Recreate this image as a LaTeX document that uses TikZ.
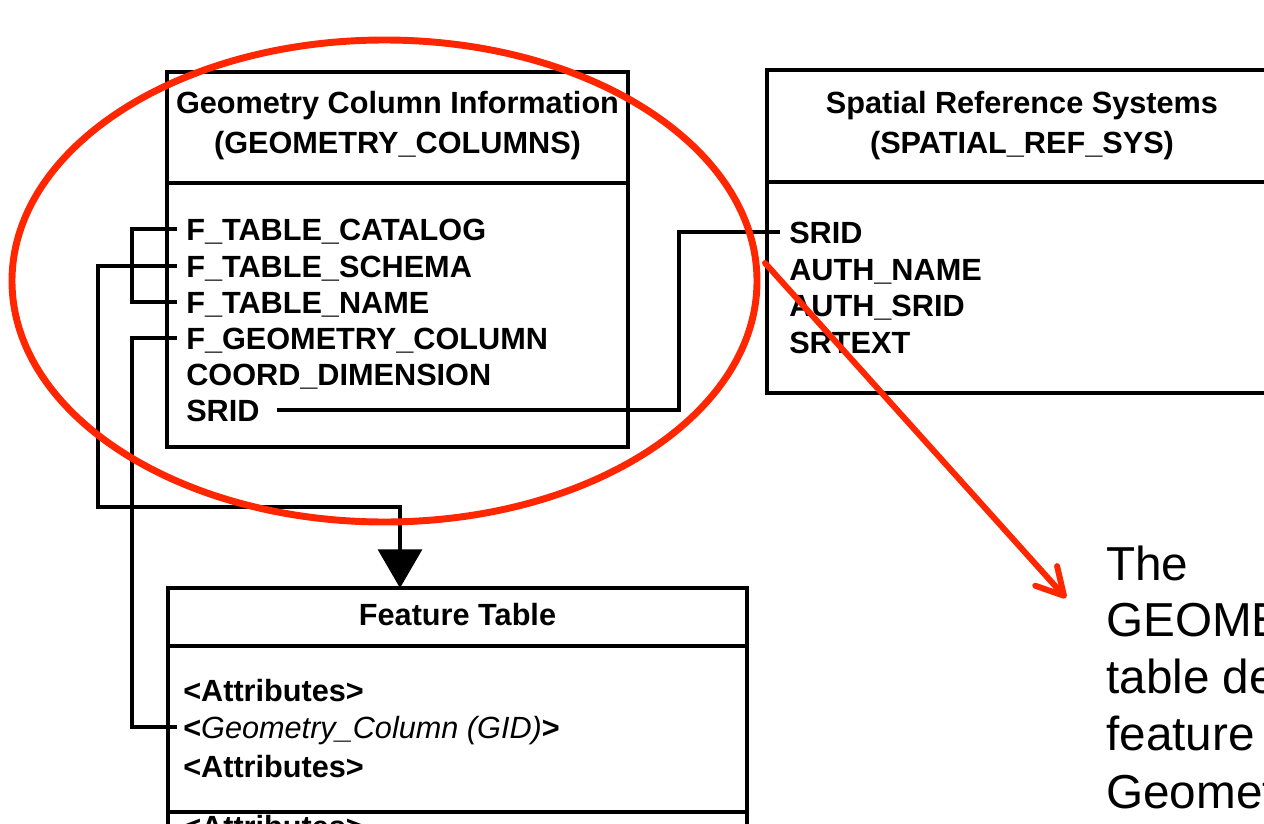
\documentclass[tikz,border=0pt]{standalone}
\usepackage{fontspec}
\setmainfont{Liberation Sans}
\usetikzlibrary{arrows.meta,calc}
\definecolor{annred}{RGB}{255,38,0}
\begin{document}
\begin{tikzpicture}[x=0.75pt,y=-0.75pt,
  box/.style={line width=2.6pt},
  conn/.style={line width=2.4pt},
  hdr/.style={font=\fontsize{23}{30}\selectfont\bfseries, align=center, inner sep=0pt},
  row/.style={font=\fontsize{23}{28}\selectfont\bfseries, anchor=west, inner xsep=6.75pt, inner ysep=0pt, text height=16.5pt, text depth=0pt},
  frow/.style={row, inner xsep=4.5pt},
  ann/.style={font=\fontsize{35.75}{42.75}\selectfont, anchor=base west, inner sep=0pt},
  hl/.style={draw=annred, line width=5.2pt}]

\useasboundingbox (0,0) rectangle (1264,824);
\clip (0,0) rectangle (1264,824);

% ---------- Geometry Column Information ----------
\coordinate (gcNW) at (167,72);
\coordinate (gcSE) at (628,447);
\draw[box] (gcNW) rectangle (gcSE);
\draw[box] (167,183) -- (628,183);
\node[hdr] (gchead) at (397.5,126) {Geometry Column Information\\(GEOMETRY\_COLUMNS)};
\node[row] (cat)   at (177,229) {F\_TABLE\_CATALOG};
\node[row] (sch)   at (177,266) {F\_TABLE\_SCHEMA};
\node[row] (tname) at (177,302) {F\_TABLE\_NAME};
\node[row] (gcol)  at (177,338) {F\_GEOMETRY\_COLUMN};
\node[row] (cdim)  at (177,374) {COORD\_DIMENSION};
\node[row] (gsrid) at (177,410) {SRID};

% ---------- Spatial Reference Systems ----------
\draw[box] (1290,70) -- (767,70) -- (767,393) -- (1290,393);
\draw[box] (767,182) -- (1290,182);
\node[hdr] (srshead) at (1022,126) {Spatial Reference Systems\\(SPATIAL\_REF\_SYS)};
\node[row] (ssrid) at (780,232) {SRID};
\node[row] (aname) at (780,269) {AUTH\_NAME};
\node[row] (asrid) at (780,305) {AUTH\_SRID};
\node[row] (srtxt) at (780,342) {SRTEXT};

% ---------- Feature Table ----------
\draw[box] (168,850) -- (168,588) -- (747,588) -- (747,850);
\draw[box] (168,646) -- (747,646);
\draw[box] (168,812) -- (747,812);
\node[hdr] (fthead) at (457.5,615) {Feature Table};
\coordinate (ftTop) at (400,588);
\node[frow] (fatt1) at (177,690) {<Attributes>};
\node[frow] (fgeo)  at (177,727) {<\textit{\mdseries Geometry\_Column (GID)}>};
\node[frow] (fatt2) at (177,766) {<Attributes>};
\node[frow] (fatt3) at (177,826) {<Attributes>};

% ---------- connectors ----------
\coordinate (jog) at (679,0);
\draw[conn] (cat.west) -- ++(-45,0) |- (tname.west);
\draw[conn, -{Triangle[length=29pt,width=33pt]}] (sch.west) -- ++(-79,0) |- ($(ftTop)+(0,-81)$) -- (ftTop);
\draw[conn] (gcol.west) -- ++(-45,0) |- (fgeo.west);
\draw[conn] ([xshift=6pt]gsrid.east) -| (jog |- ssrid.west) -- (ssrid.west);

% ---------- red annotation ----------
\draw[hl] (384.5,281) ellipse [x radius=372.5, y radius=241];
\coordinate (arrS) at (765,263);
\coordinate (arrE) at (1066,598);
\draw[hl, line width=4.5pt, line cap=round, -{Straight Barb[length=20pt,width=22pt,round]}] (arrS) -- (arrE);

\node[ann] (a1) at (1106,580) {The};
\node[ann] (a2) at (1106,636) {GEOME};
\node[ann] (a3) at (1106,693) {table de};
\node[ann] (a4) at (1106,750) {feature};
\node[ann] (a5) at (1106,808) {Geomet};
\end{tikzpicture}
\end{document}
